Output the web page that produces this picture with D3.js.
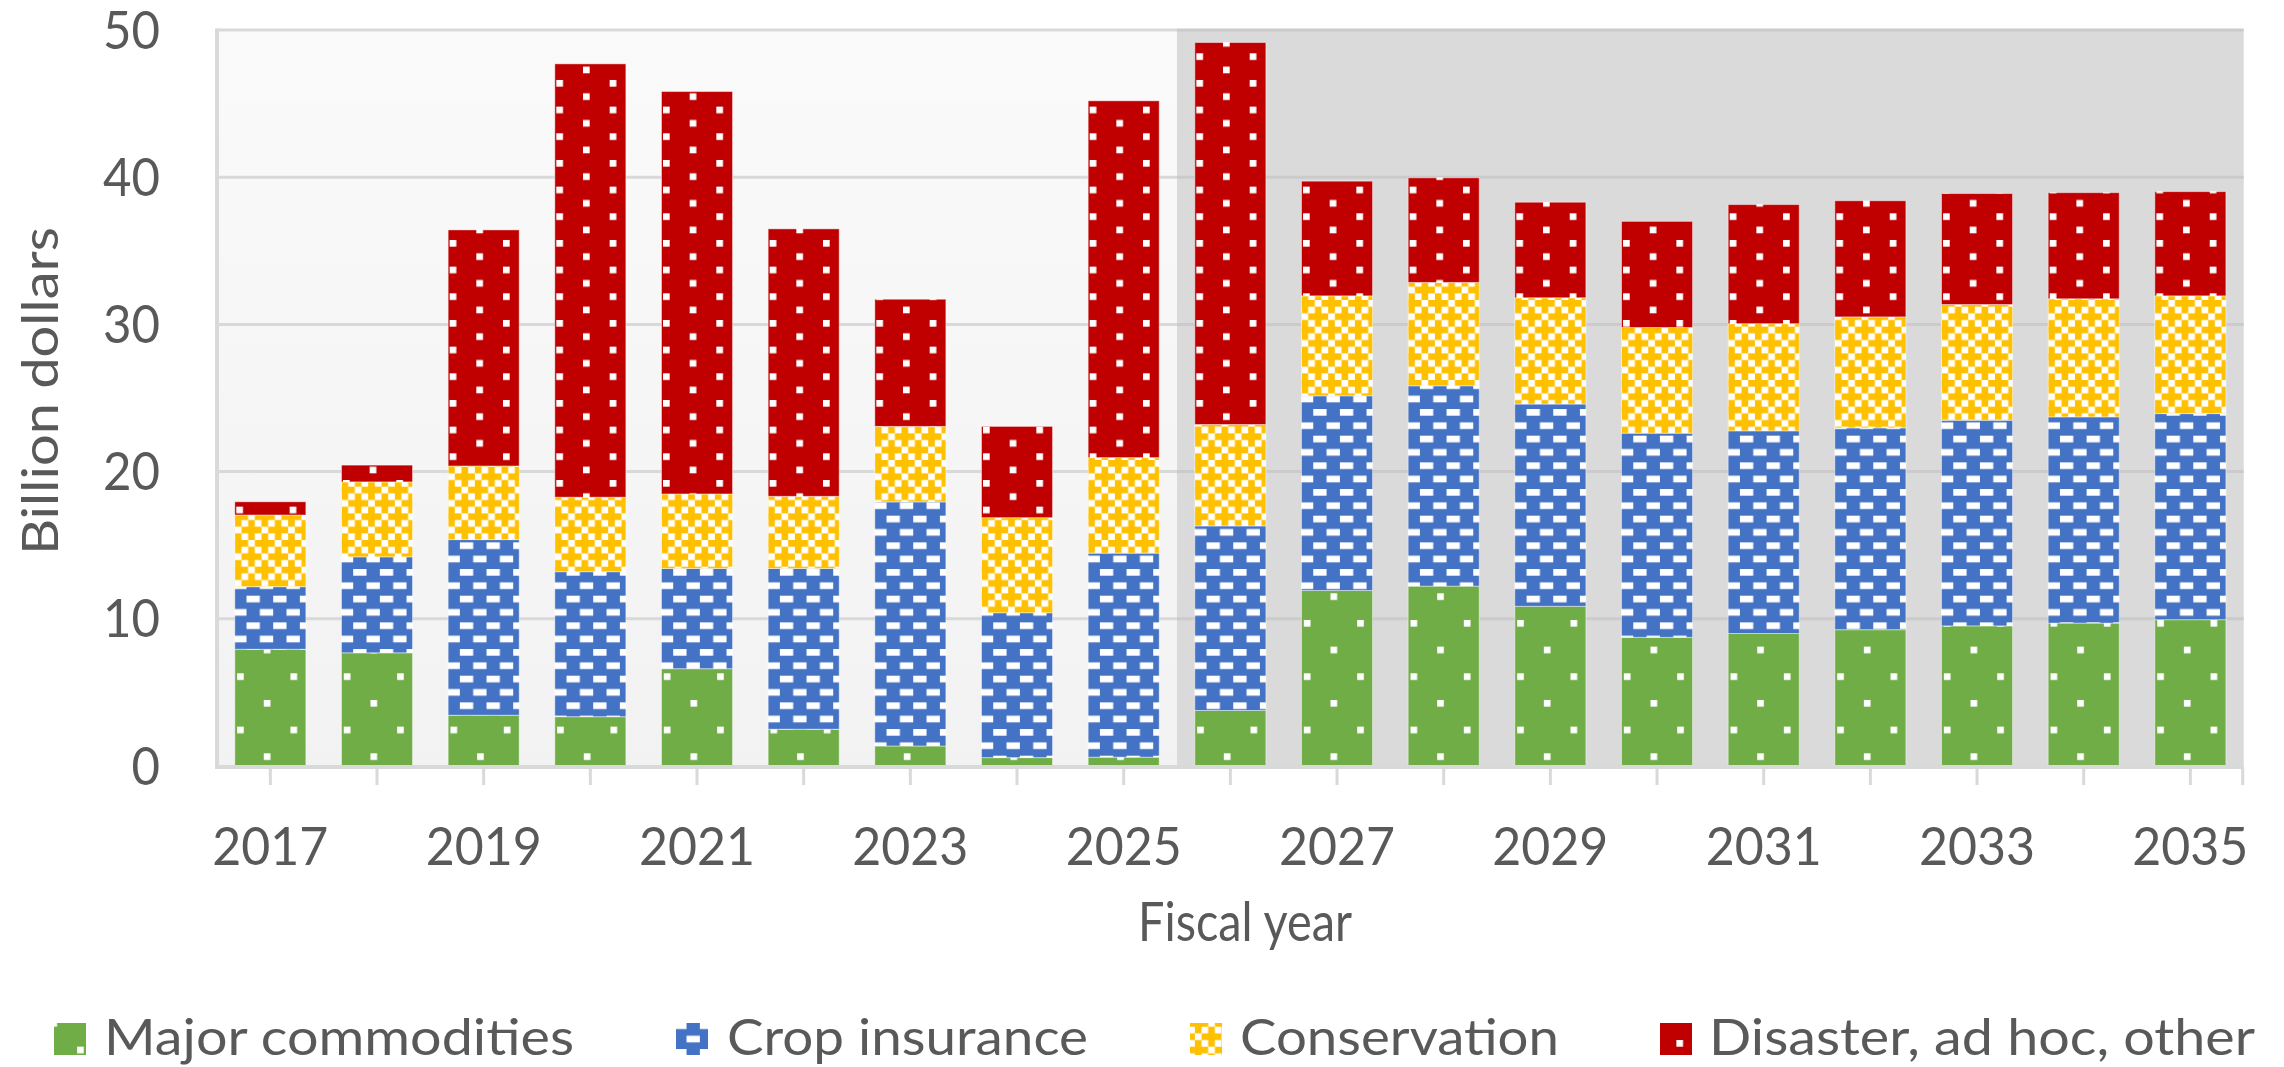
<!DOCTYPE html>
<html>
<head>
<meta charset="utf-8">
<script src="https://cdn.jsdelivr.net/npm/d3@7"></script>
<style>
  html, body { margin: 0; padding: 0; background: #ffffff; }
  svg { display: block; }
  text { font-family: Lato, "Open Sans", sans-serif; fill: #595959; }
</style>
</head>
<body>
<svg id="chart" width="2284" height="1067"></svg>
<script>
// ---------- data ----------
const years = ["2017","2018","2019","2020","2021","2022","2023","2024","2025","2026",
               "2027","2028","2029","2030","2031","2032","2033","2034","2035"];
const majorCommodities = [7.93,7.69,3.45,3.35,6.61,2.50,1.36,0.57,0.60,3.77,11.92,12.22,10.85,8.74,9.00,9.26,9.52,9.71,9.94];
const cropInsurance    = [4.25,6.52,11.93,9.85,6.81,10.92,16.58,9.84,13.86,12.54,13.23,13.61,13.74,13.87,13.77,13.71,13.97,14.01,14.00];
const conservation     = [4.87,5.09,5.00,5.06,5.06,4.90,5.13,6.46,6.49,6.89,6.79,7.02,7.22,7.18,7.28,7.54,7.86,8.02,8.00];
const disasterOther    = [0.90,1.14,16.04,29.44,27.34,18.17,8.64,6.20,24.24,25.95,7.79,7.11,6.49,7.21,8.09,7.89,7.54,7.21,7.08];
const seriesKeys   = ["commodities","insurance","conservation","disaster"];
const seriesNames  = ["Major commodities","Crop insurance","Conservation","Disaster, ad hoc, other"];
const yTickValues  = [0,10,20,30,40,50];
const xTickLabels  = ["2017","2019","2021","2023","2025","2027","2029","2031","2033","2035"];
const firstProjectedYear = "2026";
const yAxisTitle = "Billion dollars";
const xAxisTitle = "Fiscal year";

const table = years.map((yr, i) => ({
  year: yr,
  commodities: majorCommodities[i],
  insurance: cropInsurance[i],
  conservation: conservation[i],
  disaster: disasterOther[i]
}));

// ---------- layout ----------
const svg = d3.select("#chart");
const L = 217, R = 2243.7, T = 30, B = 766;
const x = d3.scaleBand().domain(years).range([L, R]).paddingInner(0.334).paddingOuter(0.167);
const y = d3.scaleLinear().domain([0, 50]).range([B, T]);
const gap = x.step() - x.bandwidth();
const splitX = x(firstProjectedYear) - gap / 2;
const x0 = x(years[0]);
const P = 6.667; // pattern pixel

// ---------- defs: patterns & gradient ----------
const defs = svg.append("defs");
const grad = defs.append("linearGradient").attr("id", "bgGrad").attr("x1", 0).attr("y1", 0).attr("x2", 0).attr("y2", 1);
grad.append("stop").attr("offset", "0%").attr("stop-color", "#fafafa");
grad.append("stop").attr("offset", "100%").attr("stop-color", "#f2f2f2");

function makePattern(id, w, h, ox, oy, color, cells) {
  const p = defs.append("pattern").attr("id", id)
    .attr("patternUnits", "userSpaceOnUse")
    .attr("x", ox).attr("y", oy).attr("width", w).attr("height", h);
  p.append("rect").attr("width", w).attr("height", h).attr("fill", color);
  cells.forEach(c => p.append("rect")
    .attr("x", c[0] * P).attr("y", c[1] * P)
    .attr("width", (c[2] || 1) * P).attr("height", P).attr("fill", "#ffffff"));
}
// green: sparse dots
makePattern("pat-commodities", 8 * P, 8 * P, x0 + 2.3, 673.3, "#70ad47", [[0,0],[4,4]]);
// blue: horizontal dashes in brick layout
makePattern("pat-insurance", 4 * P, 4 * P, x0 + 11.7, 595.7, "#4472c4", [[0,0,2],[2,2,2]]);
// yellow: checker with plus crosses
makePattern("pat-conservation", 4 * P, 4 * P, x0, 300, "#ffc000", [[2,0],[1,1],[3,1],[0,2],[1,3],[3,3]]);
// red: denser dots
makePattern("pat-disaster", 8 * P, 4 * P, x0 + 1.5, 53.3, "#c00000", [[0,0],[4,2]]);

// ---------- backgrounds ----------
svg.append("rect").attr("x", L).attr("y", T).attr("width", splitX - L).attr("height", B - T).attr("fill", "url(#bgGrad)");
svg.append("rect").attr("x", splitX).attr("y", T).attr("width", R - splitX).attr("height", B - T).attr("fill", "#dadada");

// gridlines
const grid = svg.append("g");
grid.selectAll("line.gl").data(yTickValues.filter(v => v > 0)).join("line")
  .attr("class", "gl")
  .attr("x1", L).attr("x2", splitX).attr("y1", d => y(d)).attr("y2", d => y(d))
  .attr("stroke", "#d9d9d9").attr("stroke-width", 3);
grid.selectAll("line.gr").data(yTickValues.filter(v => v > 0)).join("line")
  .attr("class", "gr")
  .attr("x1", splitX).attr("x2", R).attr("y1", d => y(d)).attr("y2", d => y(d))
  .attr("stroke", "#cbcbcb").attr("stroke-width", 3);

// ---------- bars ----------
const stack = d3.stack().keys(seriesKeys);
const layers = stack(table);
svg.append("g").selectAll("g").data(layers).join("g")
  .attr("fill", d => `url(#pat-${d.key})`)
  .selectAll("rect").data(d => d).join("rect")
  .attr("x", d => x(d.data.year))
  .attr("width", x.bandwidth())
  .attr("y", d => y(d[1]))
  .attr("height", d => y(d[0]) - y(d[1]))
  .attr("stroke", "rgba(255,255,255,0.45)")
  .attr("stroke-width", 1);

// ---------- axes ----------
svg.append("line").attr("x1", L).attr("x2", L).attr("y1", T - 1.5).attr("y2", B + 3)
  .attr("stroke", "#d9d9d9").attr("stroke-width", 4);
const xAxis = d3.axisBottom(x).tickSize(18).tickPadding(0)
  .tickFormat(d => xTickLabels.includes(d) ? d : "");
const gx = svg.append("g").attr("transform", `translate(0,${B + 1})`).call(xAxis);
gx.select(".domain").remove();
gx.selectAll(".tick line").attr("stroke", "#d9d9d9").attr("stroke-width", 3);
gx.selectAll(".tick text")
  .attr("y", 98).attr("dy", 0)
  .attr("font-size", 53)
  .attr("font-family", "Lato, sans-serif")
  .attr("fill", "#595959")
  .attr("textLength", d => xTickLabels.includes(d) ? 116 : null)
  .attr("lengthAdjust", "spacingAndGlyphs");
svg.append("line").attr("x1", L).attr("x2", R).attr("y1", B + 1).attr("y2", B + 1)
  .attr("stroke", "#d9d9d9").attr("stroke-width", 4);
svg.append("line").attr("x1", R - 1).attr("x2", R - 1).attr("y1", B + 1).attr("y2", B + 19)
  .attr("stroke", "#d9d9d9").attr("stroke-width", 3);

const yAxis = d3.axisLeft(y).tickValues(yTickValues).tickSize(0).tickPadding(0);
const gy = svg.append("g").attr("transform", `translate(160,0)`).call(yAxis);
gy.select(".domain").remove();
gy.selectAll(".tick text")
  .attr("x", 0).attr("dy", 0).attr("y", 18)
  .attr("font-size", 53)
  .attr("font-family", "Lato, sans-serif")
  .attr("fill", "#595959")
  .attr("textLength", d => String(d).length * 28.5)
  .attr("lengthAdjust", "spacingAndGlyphs");

// axis titles
svg.append("text")
  .attr("transform", `translate(58,391) rotate(-90)`)
  .attr("text-anchor", "middle")
  .attr("font-size", 51)
  .attr("textLength", 328).attr("lengthAdjust", "spacingAndGlyphs")
  .text(yAxisTitle);
svg.append("text")
  .attr("x", 1245).attr("y", 941)
  .attr("text-anchor", "middle")
  .attr("font-size", 54)
  .attr("textLength", 214).attr("lengthAdjust", "spacingAndGlyphs")
  .text(xAxisTitle);

// ---------- legend ----------
const legendSwatchX = [54, 676, 1190, 1660];
const legendTextX   = [104, 727, 1240, 1709];
const legendTextLen = [470, 361, 319, 546];
const lg = svg.append("g");
seriesKeys.forEach((k, i) => {
  lg.append("rect").attr("x", legendSwatchX[i]).attr("y", 1023).attr("width", 32).attr("height", 32)
    .attr("fill", `url(#pat-${k})`);
  lg.append("text").attr("x", legendTextX[i]).attr("y", 1055)
    .attr("font-size", 50)
    .attr("textLength", legendTextLen[i]).attr("lengthAdjust", "spacingAndGlyphs")
    .text(seriesNames[i]);
});
</script>
</body>
</html>
